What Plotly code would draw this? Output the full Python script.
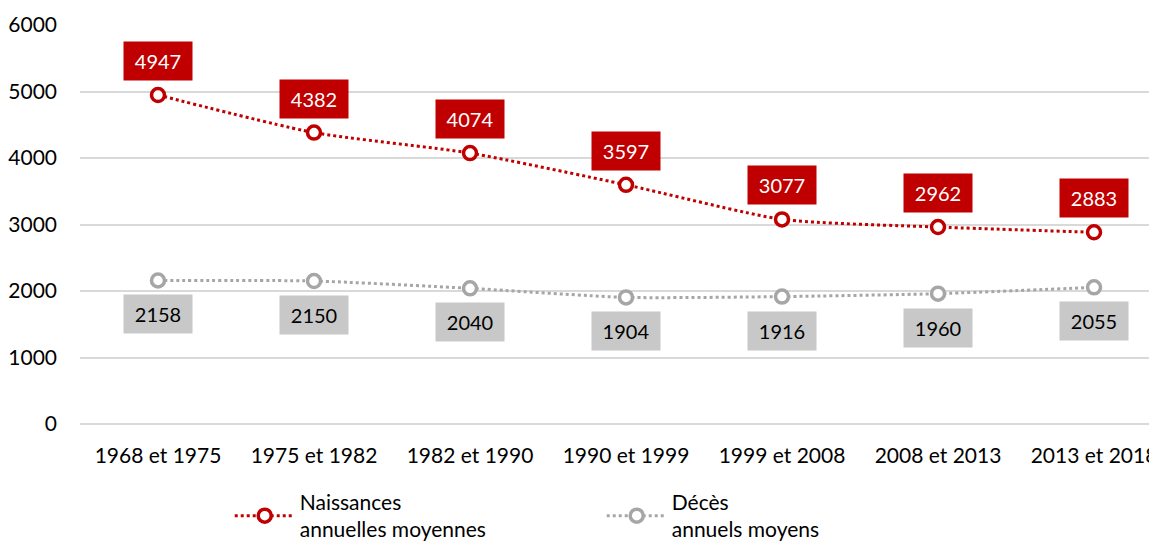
import plotly.graph_objects as go

periodes = ["1968 et 1975", "1975 et 1982", "1982 et 1990", "1990 et 1999",
            "1999 et 2008", "2008 et 2013", "2013 et 2018"]
naissances = [4947, 4382, 4074, 3597, 3077, 2962, 2883]
deces = [2158, 2150, 2040, 1904, 1916, 1960, 2055]

ROUGE = "#C00000"
GRIS = "#A6A6A6"
FONT = "Lato, 'Open Sans', sans-serif"

fig = go.Figure()

fig.add_trace(go.Scatter(
    x=periodes, y=naissances, mode="lines+markers",
    name="Naissances<br>annuelles moyennes",
    line=dict(color=ROUGE, width=3, dash="dot", shape="spline", smoothing=0.6),
    marker=dict(symbol="circle", size=13, color="white", line=dict(color=ROUGE, width=3.5)),
))
fig.add_trace(go.Scatter(
    x=periodes, y=deces, mode="lines+markers",
    name="Décès<br>annuels moyens",
    line=dict(color=GRIS, width=3, dash="dot", shape="spline", smoothing=0.6),
    marker=dict(symbol="circle", size=13, color="white", line=dict(color=GRIS, width=3.5)),
))

# étiquettes de valeurs
for p, v in zip(periodes, naissances):
    fig.add_annotation(x=p, y=v, text=str(v), showarrow=False, yshift=34,
                       bgcolor=ROUGE, font=dict(color="white", size=20, family=FONT),
                       borderpad=7, width=54)
for p, v in zip(periodes, deces):
    fig.add_annotation(x=p, y=v, text=str(v), showarrow=False, yshift=-34,
                       bgcolor="#C8C8C8", font=dict(color="black", size=20, family=FONT),
                       borderpad=7, width=54)

fig.update_layout(
    width=1157, height=542,
    margin=dict(l=72, r=0, t=17, b=126, autoexpand=False),
    plot_bgcolor="white", paper_bgcolor="white",
    font=dict(family=FONT, size=21, color="black"),
    showlegend=True,
    legend=dict(orientation="h", x=0.138, y=-0.145, xanchor="left", yanchor="top",
                font=dict(size=21), entrywidth=297, entrywidthmode="pixels",
                itemwidth=60),
    xaxis=dict(range=[-0.5, 6.455], showgrid=False, showline=False, ticks="",
               tickfont=dict(size=21), ticklabelstandoff=17, automargin=False),
    yaxis=dict(range=[0, 6000], dtick=1000, showgrid=True, gridcolor="#D9D9D9",
               gridwidth=2, zeroline=True, zerolinecolor="#D9D9D9", zerolinewidth=2,
               showline=False, ticks="",
               tickfont=dict(size=21), ticklabelstandoff=22, automargin=False),
)

fig.write_html("out.html")
